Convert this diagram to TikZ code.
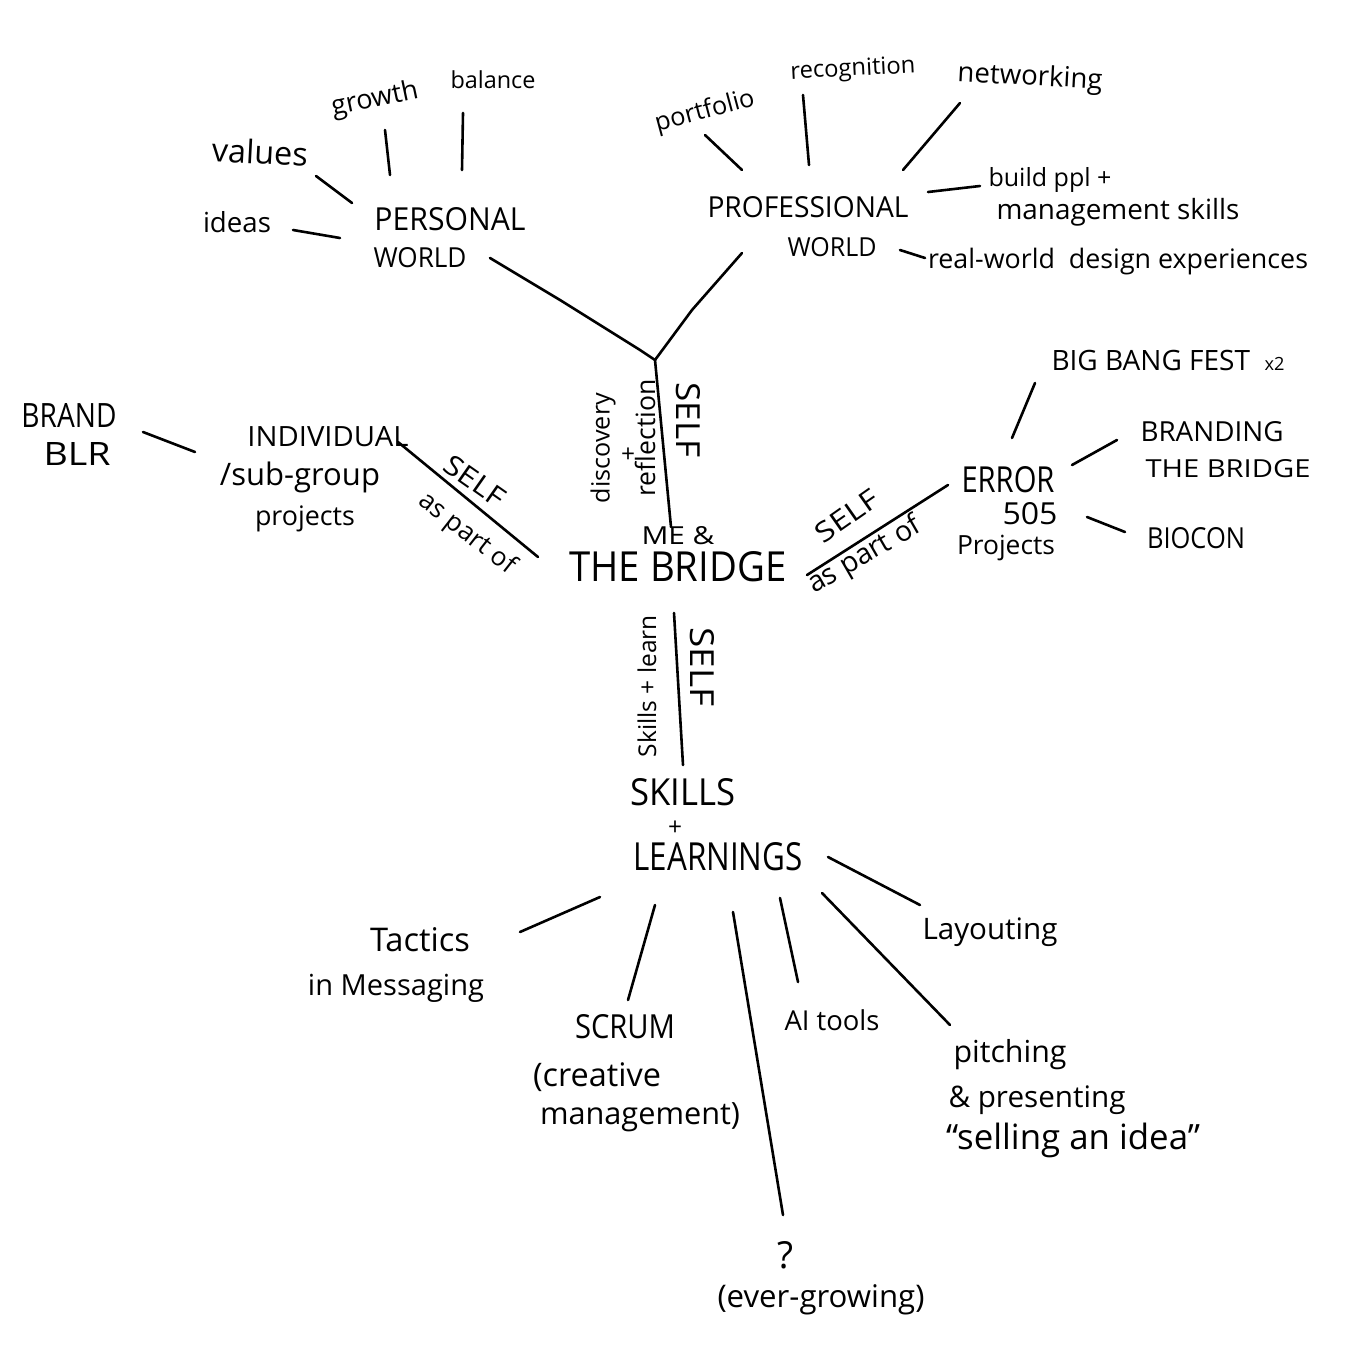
\documentclass[tikz,border=0pt]{standalone}
\usepackage{fontspec}
\setmainfont{Open Sans}
\usepackage{graphicx}
\newcommand{\tw}[2]{\resizebox{#1pt}{!}{#2}}
\newcommand{\twh}[3]{\resizebox{#1pt}{#2pt}{#3}}
\begin{document}
\begin{tikzpicture}[x=1pt,y=-1pt,
  t/.style={inner sep=0pt,anchor=center,font=\fontsize{20}{24}\selectfont},
  ln/.style={line width=2.6pt,line cap=round,line join=round}]
\useasboundingbox[fill=white] (0,0) rectangle (1358,1370);
% ---------- personal world ----------
\node[t,rotate=-3] (values) at (260,152) {\tw{96}{values}};
\node[t,rotate=12] (growth) at (375,100) {\tw{88}{growth}};
\node[t] (balance) at (493,80) {\tw{85}{balance}};
\node[t] (ideas) at (237,222) {\tw{68}{ideas}};
\node[t] (pw1) at (450,219) {\twh{151}{23}{PERSONAL}};
\node[t] (pw2) at (420,258) {\twh{93}{20}{WORLD}};
\coordinate (valA) at (316,176); \coordinate (valB) at (352,203);
\coordinate (groA) at (385,130); \coordinate (groB) at (390,175);
\coordinate (balA) at (463,113); \coordinate (balB) at (462,170);
\coordinate (ideA) at (293,230); \coordinate (ideB) at (340,238);
\draw[ln] (valA) -- (valB);
\draw[ln] (groA) -- (groB);
\draw[ln] (balA) -- (balB);
\draw[ln] (ideA) -- (ideB);
% ---------- professional world ----------
\node[t,rotate=15] (portfolio) at (705,112) {\tw{102}{portfolio}};
\node[t,rotate=3] (recognition) at (853,70) {\tw{125}{recognition}};
\node[t,rotate=-3] (networking) at (1030,78) {\tw{145}{networking}};
\node[t] (prw1) at (808,207) {\twh{201}{21}{PROFESSIONAL}};
\node[t] (prw2) at (832,247) {\twh{89}{19}{WORLD}};
\node[t] (build1) at (1050,180) {\tw{123}{build ppl +}};
\node[t] (build2) at (1118,212) {\tw{243}{management skills}};
\node[t] (realw) at (1118,262) {\tw{380}{real-world\ \ design experiences}};
\coordinate (porA) at (705,135); \coordinate (porB) at (742,170);
\coordinate (recA) at (803,95); \coordinate (recB) at (809,165);
\coordinate (netA) at (960,103); \coordinate (netB) at (903,170);
\coordinate (bldA) at (928,192); \coordinate (bldB) at (980,186);
\coordinate (reaA) at (900,250); \coordinate (reaB) at (925,258);
\draw[ln] (porA) -- (porB);
\draw[ln] (recA) -- (recB);
\draw[ln] (netA) -- (netB);
\draw[ln] (bldA) -- (bldB);
\draw[ln] (reaA) -- (reaB);
% ---------- trunk ----------
\coordinate (junc) at (655,360);
\coordinate (pwEnd) at (490,258);
\coordinate (prEnd) at (742,253);
\coordinate (meTop) at (671,527);
\draw[ln] (pwEnd) -- (560,300) -- (640,350) -- (junc);
\draw[ln] (prEnd) -- (692,310) -- (junc);
\draw[ln] (junc) -- (meTop);
\node[t,rotate=90] (disc) at (603,448) {\tw{110}{discovery}};
\node[t] (discplus) at (628,455) {\tw{14}{+}};
\node[t,rotate=90] (refl) at (645,438) {\tw{117}{reflection}};
\node[t,rotate=-90] (self1) at (688,420) {\twh{75}{24}{SELF}};
% ---------- centre ----------
\node[t] (me) at (678,536) {\twh{73}{18}{ME \&}};
\node[t] (bridge) at (678,567) {\twh{217}{30}{THE BRIDGE}};
% ---------- left ----------
\node[t] (brand1) at (69,415) {\twh{95}{24}{BRAND}};
\node[t] (brand2) at (77,454) {\twh{67}{23}{BLR}};
\node[t] (ind1) at (328,437) {\twh{161}{20}{INDIVIDUAL}};
\node[t] (ind2) at (300,477) {\tw{160}{/sub-group}};
\node[t] (ind3) at (305,519) {\tw{100}{projects}};
\coordinate (brA) at (143,432); \coordinate (brB) at (195,452);
\draw[ln] (brA) -- (brB);
\coordinate (indL) at (398,442); \coordinate (indR) at (538,557);
\draw[ln] (indL) -- (indR);
\node[t,rotate=-35] (self2) at (475,481) {\twh{68}{20}{SELF}};
\node[t,rotate=-38] (apo2) at (467,534) {\tw{115}{as part of}};
% ---------- right ----------
\node[t] (err1) at (1008,480) {\twh{93}{26}{ERROR}};
\node[t] (err2) at (1030,514) {\twh{55}{22}{505}};
\node[t] (err3) at (1006,548) {\tw{98}{Projects}};
\node[t] (bbf) at (1168,360) {\tw{233}{BIG BANG FEST\ \ {\fontsize{13}{13}\selectfont x2}}};
\node[t] (btb1) at (1212,432) {\twh{143}{20}{BRANDING}};
\node[t] (btb2) at (1228,469) {\twh{165}{18}{THE BRIDGE}};
\node[t] (biocon) at (1196,538) {\twh{98}{21}{BIOCON}};
\coordinate (rL) at (807,575); \coordinate (rR) at (948,485);
\draw[ln] (rL) -- (rR);
\node[t,rotate=35] (self3) at (847,516) {\twh{70}{20}{SELF}};
\node[t,rotate=30] (apo3) at (865,556) {\tw{126}{as part of}};
\coordinate (bbA) at (1012,438); \coordinate (bbB) at (1035,383);
\coordinate (btA) at (1072,465); \coordinate (btB) at (1117,440);
\coordinate (biA) at (1087,517); \coordinate (biB) at (1125,532);
\draw[ln] (bbA) -- (bbB);
\draw[ln] (btA) -- (btB);
\draw[ln] (biA) -- (biB);
% ---------- skills ----------
\coordinate (skTop) at (674,613); \coordinate (skBot) at (683,765);
\draw[ln] (skTop) -- (skBot);
\node[t,rotate=90] (skl) at (647,686) {\tw{142}{Skills + learn}};
\node[t,rotate=-90] (self4) at (702,667) {\twh{79}{24}{SELF}};
\node[t] (sk1) at (683,792) {\twh{105}{27}{SKILLS}};
\node[t] (sk2) at (675,828) {\tw{14}{+}};
\node[t] (sk3) at (718,857) {\twh{169}{28}{LEARNINGS}};
\node[t] (tac1) at (420,940) {\tw{100}{Tactics}};
\node[t] (tac2) at (396,988) {\tw{176}{in Messaging}};
\node[t] (scr1) at (625,1027) {\twh{100}{24}{SCRUM}};
\node[t] (scr2) at (597,1077) {\tw{128}{(creative}};
\node[t] (scr3) at (640,1117) {\tw{200}{management)}};
\node[t] (ai) at (832,1020) {\tw{95}{AI tools}};
\node[t] (lay) at (990,932) {\tw{135}{Layouting}};
\node[t] (pit1) at (1010,1055) {\tw{113}{pitching}};
\node[t] (pit2) at (1037,1100) {\tw{177}{\& presenting}};
\node[t] (pit3) at (1073,1140) {\tw{254}{“selling an idea”}};
\node[t] (q1) at (785,1255) {\tw{16}{?}};
\node[t] (q2) at (821,1300) {\tw{207}{(ever-growing)}};
\coordinate (tA) at (600,897); \coordinate (tB) at (520,932);
\coordinate (sA) at (655,905); \coordinate (sB) at (628,1000);
\coordinate (qA) at (733,912); \coordinate (qB) at (783,1215);
\coordinate (aA) at (780,898); \coordinate (aB) at (798,982);
\coordinate (pA) at (822,893); \coordinate (pB) at (950,1025);
\coordinate (lA) at (828,857); \coordinate (lB) at (920,905);
\draw[ln] (tA) -- (tB);
\draw[ln] (sA) -- (sB);
\draw[ln] (qA) -- (qB);
\draw[ln] (aA) -- (aB);
\draw[ln] (pA) -- (pB);
\draw[ln] (lA) -- (lB);
\end{tikzpicture}
\end{document}
